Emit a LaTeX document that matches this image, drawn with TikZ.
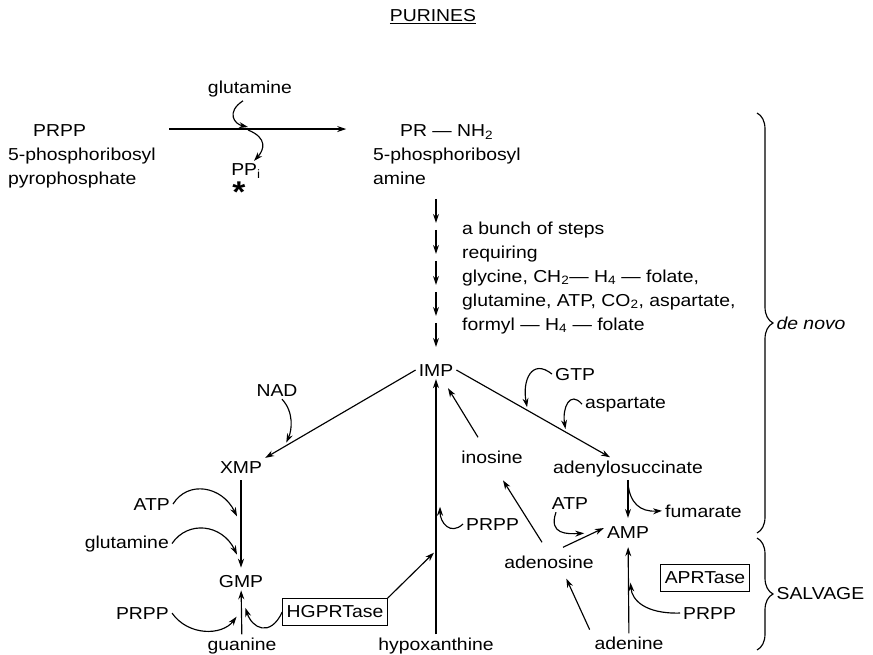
\documentclass[tikz,border=0pt]{standalone}
\usepackage{fontspec}
\setmainfont{Liberation Sans}[FakeStretch=1.12]
\usetikzlibrary{arrows.meta, positioning, decorations.pathreplacing, calc}

\begin{document}
\begin{tikzpicture}[
    x=1pt, y=-1pt,
    % Estilos de texto y de flechas
    base/.style = {font=\fontsize{17.3}{24}\selectfont, inner sep=3pt},
    compuesto/.style = {base, anchor=base},
    izq/.style = {base, anchor=base west},
    der/.style = {base, anchor=base east},
    enzima/.style = {base, draw, line width=0.9pt, minimum height=27pt, inner xsep=4pt},
    reaccion/.style = {line width=1.15pt, -{Stealth[length=9pt, width=6pt]}},
    curva/.style = {reaccion},
    llave/.style = {line width=1.15pt, decorate, decoration={brace, amplitude=16pt}}
]
\useasboundingbox (0,0) rectangle (873,655);

% ===============================
% 1. Titulo y primer paso
% ===============================
\node (titulo) [compuesto] at (433,22) {\underline{PURINES}};

\node (prpp) [izq] at (30,137) {PRPP};
\node (prppnom) [izq, align=left] at (5,185) {5-phosphoribosyl\\pyrophosphate};
\node (pr) [izq] at (397,137) {PR — NH\textsubscript{2}};
\node (prnom) [izq, align=left] at (370,185) {5-phosphoribosyl\\amine};
\node (gln) [compuesto] at (250,94) {glutamine};
\node (ppi) [compuesto] at (246,176) {PP\textsubscript{i}};
\node (estrella) [compuesto, font=\fontsize{30}{30}\selectfont\bfseries] at (239,203) {*};

\draw [reaccion] ([xshift=80pt, yshift=2pt]prpp.east) -- ++(177,0);
\coordinate (cruce) at (248,127);
\draw [curva] ([xshift=-7pt]gln.south) .. controls (226,112) and (234,124) .. (cruce);
\draw [curva] ([yshift=-3pt]cruce) .. controls (268,138) and (264,150) .. ([xshift=8pt]ppi.north);

% ===============================
% 2. Pasos hasta IMP
% ===============================
\node (pasos) [izq, align=left] at (459,330) {a bunch of steps\\requiring\\glycine, CH\textsubscript{2}— H\textsubscript{4} — folate,\\glutamine, ATP, CO\textsubscript{2}, aspartate,\\formyl — H\textsubscript{4} — folate};
\node (imp) [compuesto] at (436,376) {IMP};

\foreach \i in {0,...,4}
    \draw [reaccion] ([yshift={(38+31*\i)*1pt}]imp.north) -- ++(0,24);

% ===============================
% 3. Rama de GMP
% ===============================
\node (nad) [compuesto] at (277,396) {NAD};
\node (xmp) [compuesto] at (241,473) {XMP};
\node (gmp) [compuesto] at (241,587) {GMP};
\node (atpg) [der] at (173,510) {ATP};
\node (glng) [der] at (172,548) {glutamine};
\node (prppg) [der] at (172,619) {PRPP};
\node (gua) [compuesto] at (242,650) {guanine};
\node (hgprt) [enzima] at (335,612) {HGPRTase};

\draw [reaccion] (imp.west) -- (xmp.north east);
\draw [curva] ([xshift=5pt]nad.south) .. controls (294,412) and (292,430) .. ([yshift=3pt]$(imp.west)!0.86!(xmp.north east)$);
\draw [reaccion, shorten <=4pt, shorten >=4pt] (xmp) -- (gmp);
\draw [curva] (atpg.east) .. controls (188,480) and (222,486) .. ([xshift=-4pt]$(xmp.south)!0.42!(gmp.north)$);
\draw [curva] (glng.east) .. controls (188,520) and (222,524) .. ([xshift=-4pt]$(xmp.south)!0.82!(gmp.north)$);
\draw [reaccion] (gua) -- (gmp);
\draw [curva] (prppg.east) .. controls (188,636) and (222,636) .. ([xshift=-5pt]$(gua.north)!0.4!(gmp.south)$);
\draw [curva] (hgprt.west) .. controls (270,638) and (252,628) .. ([xshift=4pt]$(gua.north)!0.6!(gmp.south)$);

% ===============================
% 4. Rama central (hipoxantina, inosina)
% ===============================
\node (hipo) [compuesto] at (436,650) {hypoxanthine};
\node (ino) [compuesto] at (492,463) {inosine};
\node (prppm) [izq] at (463,530) {PRPP};

\draw [reaccion] (hipo) -- (imp);
\draw [reaccion] (hgprt.north east) -- ([xshift=-2pt]$(hipo.north)!0.32!(imp.south)$);
\draw [curva] (prppm.west) .. controls (450,536) and (440,522) .. ([xshift=4pt]$(hipo.north)!0.5!(imp.south)$);
\draw [reaccion] ([xshift=-14pt, yshift=10pt]ino.north) -- ([xshift=12pt, yshift=-9pt]imp.south);

% ===============================
% 5. Rama de AMP
% ===============================
\node (ads) [compuesto] at (628,473) {adenylosuccinate};
\node (gtp) [izq] at (552,380) {GTP};
\node (asp) [izq] at (582,408) {aspartate};
\node (fum) [izq] at (662,517) {fumarate};
\node (amp) [compuesto] at (628,538) {AMP};
\node (atpa) [compuesto] at (570,509) {ATP};
\node (ado) [compuesto] at (549,568) {adenosine};
\node (ade) [compuesto] at (629,649) {adenine};
\node (aprt) [enzima] at (705,578) {APRTase};
\node (prppa) [izq] at (680,619) {PRPP};

\draw [reaccion] (imp.east) -- ([xshift=-18pt]ads.north);
\draw [curva] (gtp.west) .. controls (532,358) and (522,380) .. ([yshift=3pt]$(imp.east)!0.46!([xshift=-18pt]ads.north)$);
\draw [curva] (asp.west) .. controls (570,390) and (562,408) .. ([yshift=3pt]$(imp.east)!0.71!([xshift=-18pt]ads.north)$);
\draw [reaccion, shorten >=5pt] (ads) -- (amp);
\draw [curva] ([yshift=-4pt]ads.south) .. controls (630,503) and (640,512) .. (fum.west);

\coordinate (adoamp) at ([xshift=14pt, yshift=5pt]ado.north);
\draw [reaccion] (adoamp) -- ([yshift=4pt]amp.west);
\draw [curva] ([xshift=-14pt]atpa.south) .. controls (548,535) and (568,534) .. ([yshift=4pt]$(adoamp)!0.52!([yshift=4pt]amp.west)$);
\draw [reaccion] ([xshift=-7pt, yshift=10pt]ado.north) -- ([xshift=11pt, yshift=-14pt]ino.south);
\draw [reaccion, shorten >=6pt] (ade) -- (amp);
\draw [reaccion, shorten <=4pt, shorten >=8pt] (ade.north west) -- ([xshift=14pt]ado.south);
\draw [curva] (prppa.west) .. controls (645,614) and (632,600) .. ([xshift=2pt]$(ade.north)!0.55!(amp.south)$);

% ===============================
% 6. Llaves
% ===============================
\draw [llave] (757,113) -- (757,533) node (denovo) [midway, right=16pt, base, font=\fontsize{17.3}{24}\selectfont\itshape] {de novo};
\draw [llave] (757,538) -- (757,650) node (salvage) [midway, right=16pt, base] {SALVAGE};

\end{tikzpicture}
\end{document}
